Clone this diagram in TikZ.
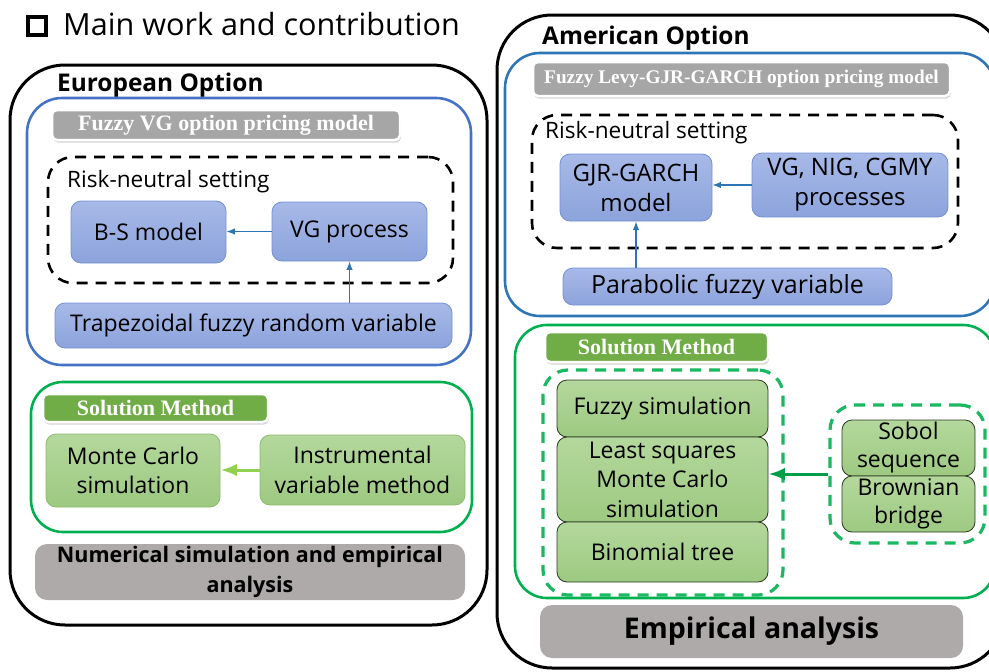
\documentclass[tikz,border=0pt]{standalone}
\usepackage{fontspec}
\setmainfont{Open Sans}
\newfontfamily\headfont{Liberation Serif}
\usepackage{xcolor}
\definecolor{FrameBlue}{HTML}{4472C4}
\definecolor{FrameGreen}{HTML}{00B050}
\definecolor{ProcTop}{HTML}{A7B9E8}
\definecolor{ProcBot}{HTML}{8CA3DB}
\definecolor{ProcLine}{HTML}{7490D2}
\definecolor{MethTop}{HTML}{B4D89C}
\definecolor{MethBot}{HTML}{9DC981}
\definecolor{MethLine}{HTML}{8DBB6E}
\definecolor{HeadGray}{HTML}{A6A6A6}
\definecolor{HeadGreen}{HTML}{70AD47}
\definecolor{ResultGray}{HTML}{AEAAAA}
\definecolor{ArrowBlue}{HTML}{2E75B6}
\definecolor{ArrowLime}{HTML}{92D050}
\usepackage{tikz}
\usetikzlibrary{arrows.meta,positioning,shadows}

\begin{document}
\begin{tikzpicture}[x=1pt, y=-1pt, >=Latex, every node/.style={inner sep=0pt, align=center},
  optbox/.style={draw, line width=3pt, rounded corners=55pt},
  modelframe/.style={draw=FrameBlue, line width=2.6pt, rounded corners=35pt},
  methodframe/.style={draw=FrameGreen, line width=2.6pt, rounded corners=32pt},
  riskframe/.style={draw, line width=2.6pt, dash pattern=on 11pt off 8pt, rounded corners=25pt},
  groupframe/.style={draw=FrameGreen!90, line width=3.2pt, dash pattern=on 11pt off 8pt, rounded corners=25pt},
  header/.style={draw=white, line width=2.5pt, rounded corners=5pt, text=white,
    font=\headfont\bfseries\fontsize{22}{25}\selectfont, drop shadow={opacity=.35, shadow xshift=1pt, shadow yshift=-2.5pt}},
  procbox/.style={draw=ProcLine, line width=.8pt, rounded corners=10pt, top color=ProcTop, bottom color=ProcBot,
    font=\fontsize{23}{30}\selectfont},
  methbox/.style={draw=MethLine, line width=.8pt, rounded corners=10pt, top color=MethTop, bottom color=MethBot,
    font=\fontsize{23}{29.5}\selectfont},
  stackbox/.style={methbox, draw=black!70!MethLine},
  resultbox/.style={fill=ResultGray, rounded corners=12pt},
  optlabel/.style={anchor=west, font=\bfseries\fontsize{24.4}{28}\selectfont},
  risklabel/.style={anchor=west, font=\fontsize{22.6}{26}\selectfont}]
  \useasboundingbox (0,0) rectangle (989,672);
  \clip (0,0) rectangle (989,672);

  % title
  \node[draw, line width=4pt, minimum size=18pt] (bullet) at (37,26) {};
  \node[anchor=west, font=\fontsize{30.6}{34}\selectfont] (title) at (63,24) {Main work and contribution};

  % European option
  \node[optbox, minimum width=477, minimum height=560] (euro) at (248.5,345) {};
  \node[optlabel] (eurolabel) at (57,85) {European Option};
  \node[modelframe, minimum width=444, minimum height=267] (eumodel) at (249,231.5) {};
  \node[header, fill=HeadGray, minimum width=348, minimum height=30] (euhead) at (226,125) {Fuzzy VG option pricing model};
  \node[riskframe, minimum width=405, minimum height=126] (eurisk) at (250.5,220) {};
  \node[risklabel] (eurisklabel) at (67,182) {Risk-neutral setting};
  \node[procbox, minimum width=155, minimum height=62] (bs) at (148.5,232) {B-S model};
  \node[procbox, minimum width=155, minimum height=59] (vg) at (349.5,231.5) {VG process};
  \node[procbox, minimum width=397, minimum height=45] (trap) at (253.5,325.5) {Trapezoidal fuzzy random variable};
  \draw[->, ArrowBlue, line width=1.2pt] (vg.west) -- (vg.west -| bs.east);
  \draw[->, ArrowBlue, line width=1.2pt] (trap.north -| vg.south) -- (vg.south);

  \node[methodframe, minimum width=441, minimum height=150] (eumethod) at (251.5,457) {};
  \node[header, fill=HeadGreen, minimum width=225, minimum height=28] (eusol) at (155.5,408) {Solution Method};
  \node[methbox, minimum width=174, minimum height=73] (mc) at (133,470.5) {Monte Carlo\\simulation};
  \node[methbox, minimum width=205, minimum height=70] (ivm) at (362.5,470) {Instrumental\\variable method};
  \draw[->, ArrowLime, line width=3pt] (ivm.west) -- (ivm.west -| mc.east);
  \node[resultbox, minimum width=430, minimum height=56, font=\bfseries\fontsize{21.5}{30}\selectfont] (eunum) at (250,572)
    {Numerical simulation and empirical\\analysis};

  % American option
  \node[optbox, minimum width=508, minimum height=653] (amer) at (751,341.5) {};
  \node[optlabel] (amerlabel) at (542,38) {American Option};
  \node[modelframe, draw=ArrowBlue, minimum width=490, minimum height=263] (ammodel) at (750,184.5) {};
  \node[header, fill=HeadGray, minimum width=417, minimum height=34, font=\headfont\bfseries\fontsize{19.3}{22}\selectfont] (amhead) at (741.5,79)
    {Fuzzy Levy-GJR-GARCH option pricing model};
  \node[riskframe, minimum width=426, minimum height=133] (amrisk) at (745,181.5) {};
  \node[risklabel] (amrisklabel) at (545,133) {Risk-neutral setting};
  \node[procbox, minimum width=152, minimum height=67, font=\fontsize{24}{30}\selectfont] (gjr) at (636,187.5) {GJR-GARCH\\model};
  \node[procbox, minimum width=196, minimum height=64, font=\fontsize{24}{30}\selectfont] (levy) at (850,185) {VG, NIG, CGMY\\processes};
  \node[procbox, minimum width=329, minimum height=37, font=\fontsize{25}{30}\selectfont] (para) at (727.5,286.5) {Parabolic fuzzy variable};
  \draw[->, ArrowBlue, line width=1.2pt] (levy.west) -- (levy.west -| gjr.east);
  \draw[->, ArrowBlue, line width=1.2pt] (para.north -| gjr.south) -- (gjr.south);

  \node[methodframe, minimum width=480, minimum height=273] (ammethod) at (755,461.5) {};
  \node[header, fill=HeadGreen, minimum width=223, minimum height=30] (amsol) at (656.5,347) {Solution Method};
  \node[groupframe, minimum width=240, minimum height=225] (lsgroup) at (663,482.5) {};
  \node[stackbox, minimum width=211, minimum height=57] (fuzzy) at (662.5,408.5) {Fuzzy simulation};
  \node[stackbox, minimum width=211, minimum height=85] (lsm) at (662.5,479.5) {Least squares\\Monte Carlo\\simulation};
  \node[stackbox, minimum width=211, minimum height=60] (binom) at (662.5,552) {Binomial tree};
  \node[groupframe, minimum width=155, minimum height=138] (qmcgroup) at (907.5,474) {};
  \node[stackbox, minimum width=133, minimum height=56, font=\fontsize{23}{28}\selectfont] (sobol) at (908.5,448) {Sobol\\sequence};
  \node[stackbox, minimum width=133, minimum height=56, font=\fontsize{23}{28}\selectfont] (brown) at (908.5,504) {Brownian\\bridge};
  \draw[->, FrameGreen!90!black, line width=3pt] (qmcgroup.west) -- (qmcgroup.west -| lsm.east);
  \node[resultbox, minimum width=423, minimum height=53, font=\bfseries\fontsize{28.5}{32}\selectfont] (empir) at (751.5,631.5)
    {Empirical analysis};
\end{tikzpicture}
\end{document}
